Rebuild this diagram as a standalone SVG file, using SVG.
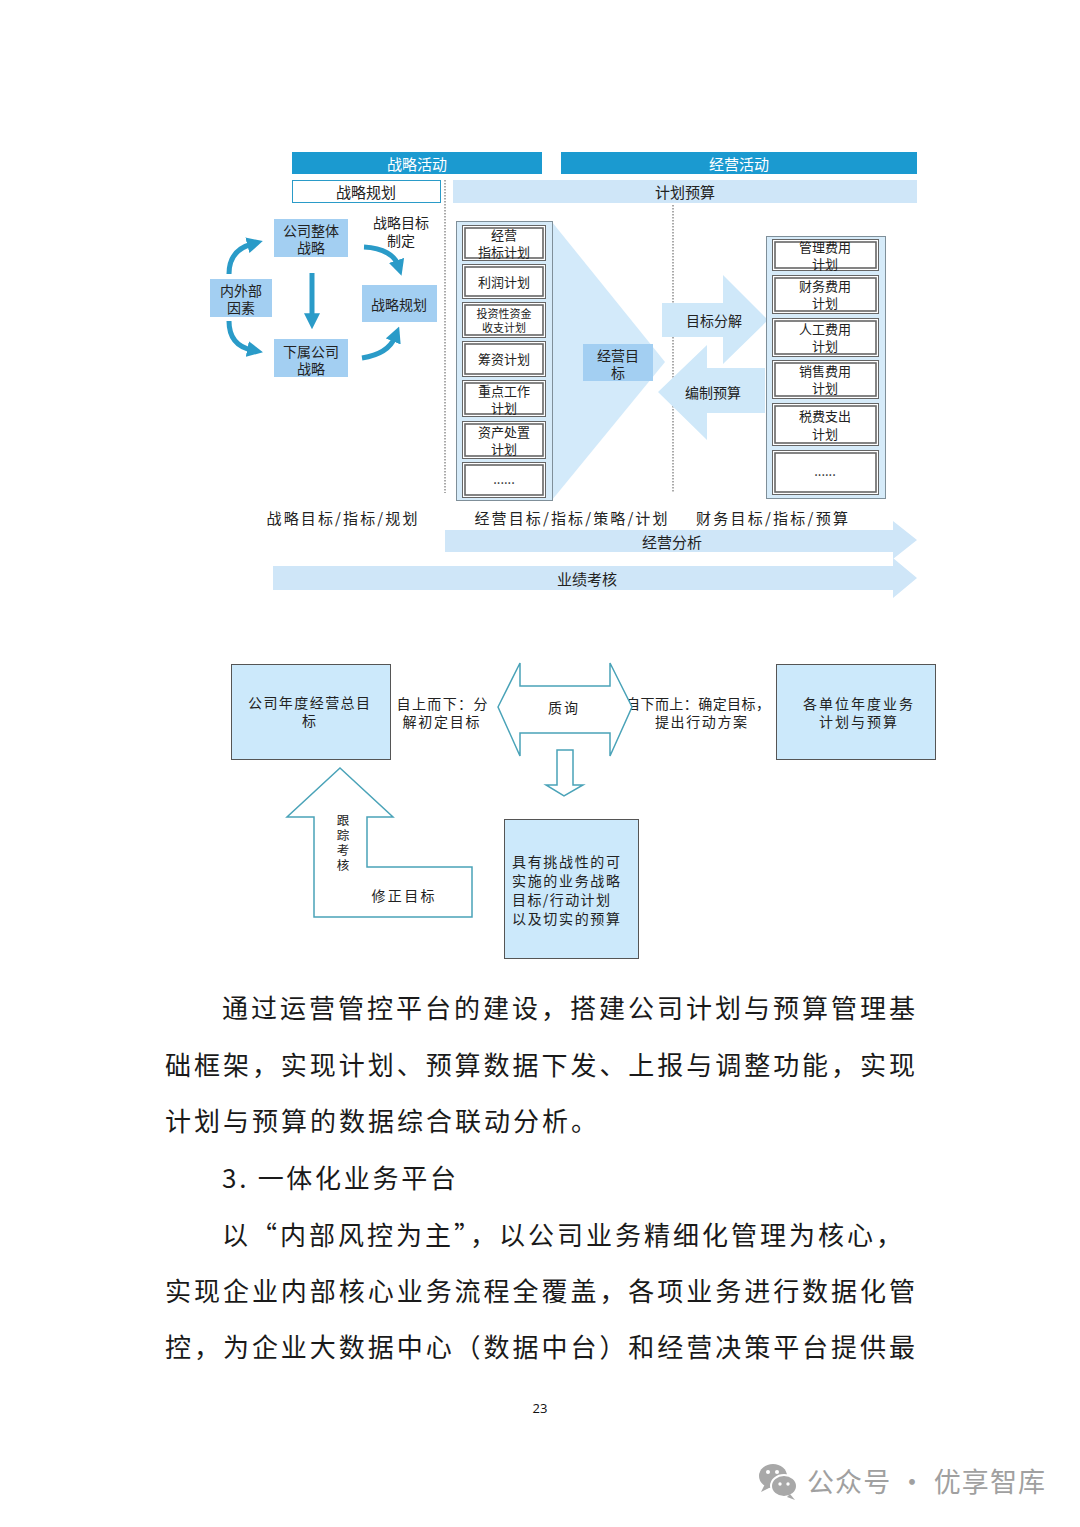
<svg xmlns="http://www.w3.org/2000/svg" width="1080" height="1527" viewBox="0 0 1080 1527">
<defs>
<style>
text{font-family:"Noto Sans CJK SC","Noto Sans",sans-serif;fill:#222;}
.c{text-anchor:middle;dominant-baseline:central;}
.hd{font-size:15px;fill:#fff;}
.h2{font-size:15px;}
.nb{fill:#a3cff2;}
.nt{font-size:14px;}
.pt{font-size:13px;}
.ib{fill:#fff;stroke:#666;stroke-width:1;}
.ibi{fill:none;stroke:#666;stroke-width:1.6;}
.col{fill:#d6ebf9;stroke:#7f8f99;stroke-width:1;}
.lb{font-size:15px;}
.bx{fill:#cce9fb;stroke:#555;stroke-width:1;}
.ol{fill:#fff;stroke:#4aa3b8;stroke-width:1.5;}
.bt{font-size:14px;}
.vt{font-size:12.5px;writing-mode:vertical-rl;letter-spacing:2.5px;}
.para{font-size:26px;fill:#1a1a1a;}
.cur{fill:none;stroke:#2a9bc8;stroke-width:5;}
</style>
<marker id="ah" viewBox="0 0 10 10" refX="3" refY="5" markerWidth="3.2" markerHeight="3.2" orient="auto" markerUnits="strokeWidth">
<path d="M0,0 L10,5 L0,10 z" fill="#2a9bc8"/>
</marker>
</defs>
<rect width="1080" height="1527" fill="#fff"/>

<!-- headers -->
<g id="hdr-strategy"><rect x="292" y="152" width="250" height="22" fill="#1b9ad0"/><text class="c hd" x="417" y="163">战略活动</text></g>
<g id="hdr-operation"><rect x="561" y="152" width="356" height="22" fill="#1b9ad0"/><text class="c hd" x="739" y="163">经营活动</text></g>
<g id="hdr-plan"><rect x="292.5" y="180.5" width="148" height="22" fill="#fff" stroke="#2a9bc8" stroke-width="1"/><text class="c h2" x="366" y="191">战略规划</text></g>
<g id="hdr-budget"><rect x="453" y="180" width="464" height="23" fill="#cfe6f8"/><text class="c h2" x="685" y="191">计划预算</text></g>
<g id="dividers" stroke="#555" stroke-width="1" stroke-dasharray="1.5,1.5">
<line x1="445" y1="180" x2="445" y2="493"/>
<line x1="673" y1="205" x2="673" y2="493"/>
</g>

<!-- left cycle -->
<g id="n-company"><rect class="nb" x="274" y="219" width="74" height="38"/><text class="c nt" x="311" y="230">公司整体</text><text class="c nt" x="311" y="247">战略</text></g>
<g id="n-factors"><rect class="nb" x="210" y="279" width="62" height="38"/><text class="c nt" x="241" y="290">内外部</text><text class="c nt" x="241" y="307">因素</text></g>
<g id="n-stratplan"><rect class="nb" x="362" y="285" width="75" height="37"/><text class="c nt" x="399" y="304">战略规划</text></g>
<g id="n-sub"><rect class="nb" x="274" y="339" width="74" height="38"/><text class="c nt" x="311" y="351">下属公司</text><text class="c nt" x="311" y="368">战略</text></g>
<g id="lbl-goal"><text class="c nt" x="401" y="222">战略目标</text><text class="c nt" x="401" y="240">制定</text></g>

<g id="connectors">
<path class="cur" d="M229 274 C229 258 237 248 252 244" marker-end="url(#ah)"/>
<path class="cur" d="M229 321 C229 337 237 347 252 350" marker-end="url(#ah)"/>
<path class="cur" d="M312 273 L312 318" marker-end="url(#ah)"/>
<path class="cur" d="M364 247 C384 248 395 256 398 265" marker-end="url(#ah)"/>
<path class="cur" d="M362 358 C381 355 391 347 395 337" marker-end="url(#ah)"/>
</g>

<!-- funnel -->
<polygon points="552,222 665,362 552,500" fill="#d3eafa"/>

<!-- middle column -->
<g id="col-ops">
<rect class="col" x="456.5" y="221.5" width="96" height="279"/>
<rect class="ib" x="462.5" y="225.5" width="83" height="35"/><rect class="ibi" x="465" y="228" width="78" height="30"/>
<text class="c pt" x="504" y="234">经营</text><text class="c pt" x="504" y="251">指标计划</text>
<rect class="ib" x="462.5" y="264.5" width="83" height="34"/><rect class="ibi" x="465" y="267" width="78" height="29"/>
<text class="c pt" x="504" y="281">利润计划</text>
<rect class="ib" x="462.5" y="302.5" width="83" height="35"/><rect class="ibi" x="465" y="305" width="78" height="30"/>
<text class="c" style="font-size:11px" x="504" y="313">投资性资金</text><text class="c" style="font-size:11px" x="504" y="327">收支计划</text>
<rect class="ib" x="462.5" y="341.5" width="83" height="35"/><rect class="ibi" x="465" y="344" width="78" height="30"/>
<text class="c pt" x="504" y="358">筹资计划</text>
<rect class="ib" x="462.5" y="380.5" width="83" height="36"/><rect class="ibi" x="465" y="383" width="78" height="31"/>
<text class="c pt" x="504" y="390">重点工作</text><text class="c pt" x="504" y="407">计划</text>
<rect class="ib" x="462.5" y="421.5" width="83" height="37"/><rect class="ibi" x="465" y="424" width="78" height="32"/>
<text class="c pt" x="504" y="431">资产处置</text><text class="c pt" x="504" y="448">计划</text>
<rect class="ib" x="462.5" y="462.5" width="83" height="35"/><rect class="ibi" x="465" y="465" width="78" height="30"/>
<text class="c pt" x="504" y="478">......</text>
</g>

<g id="n-opgoal"><rect class="nb" x="583" y="344" width="70" height="37"/><text class="c nt" x="618" y="355">经营目</text><text class="c nt" x="618" y="372">标</text></g>

<!-- decomposition arrows -->
<g id="arr-decompose"><polygon points="662,303 723,303 723,275 768,320 723,364 723,337 662,337" fill="#cfe8f9"/><text class="c nt" x="714" y="320">目标分解</text></g>
<g id="arr-budget"><polygon points="765,368 707,368 707,345 658,392 707,440 707,413 765,413" fill="#cfe8f9"/><text class="c nt" x="713" y="392">编制预算</text></g>

<!-- right column -->
<g id="col-fin">
<rect class="col" x="766.5" y="236.5" width="119" height="262"/>
<rect class="ib" x="772.5" y="239.5" width="106" height="31"/><rect class="ibi" x="775" y="242" width="101" height="26"/>
<text class="c pt" x="825" y="246">管理费用</text><text class="c pt" x="825" y="263">计划</text>
<rect class="ib" x="772.5" y="275.5" width="106" height="38"/><rect class="ibi" x="775" y="278" width="101" height="33"/>
<text class="c pt" x="825" y="285">财务费用</text><text class="c pt" x="825" y="302">计划</text>
<rect class="ib" x="772.5" y="318.5" width="106" height="38"/><rect class="ibi" x="775" y="321" width="101" height="33"/>
<text class="c pt" x="825" y="328">人工费用</text><text class="c pt" x="825" y="345">计划</text>
<rect class="ib" x="772.5" y="360.5" width="106" height="38"/><rect class="ibi" x="775" y="363" width="101" height="33"/>
<text class="c pt" x="825" y="370">销售费用</text><text class="c pt" x="825" y="387">计划</text>
<rect class="ib" x="772.5" y="403.5" width="106" height="42"/><rect class="ibi" x="775" y="406" width="101" height="37"/>
<text class="c pt" x="825" y="415">税费支出</text><text class="c pt" x="825" y="433">计划</text>
<rect class="ib" x="772.5" y="450.5" width="106" height="44"/><rect class="ibi" x="775" y="453" width="101" height="39"/>
<text class="c pt" x="825" y="470">......</text>
</g>

<!-- bottom labels -->
<g id="lbl-bottom">
<text class="c lb" x="342" y="517" textLength="151" lengthAdjust="spacing">战略目标/指标/规划</text>
<text class="c lb" x="571" y="517" textLength="193" lengthAdjust="spacing">经营目标/指标/策略/计划</text>
<text class="c lb" x="772" y="517" textLength="152" lengthAdjust="spacing">财务目标/指标/预算</text>
</g>
<g id="arr-analysis"><polygon points="445,530 893,530 893,521 917,540 893,559 893,552 445,552" fill="#cfe6f8"/><text class="c lb" x="672" y="541">经营分析</text></g>
<g id="arr-assess"><polygon points="273,566 893,566 893,558 917,578 893,598 893,590 273,590" fill="#cfe6f8"/><text class="c lb" x="587" y="578">业绩考核</text></g>

<!-- second diagram -->
<g id="b-company"><rect class="bx" x="231.5" y="664.5" width="159" height="95"/><text class="c bt" x="309" y="702" textLength="122" lengthAdjust="spacing">公司年度经营总目</text><text class="c bt" x="309" y="720">标</text></g>
<g id="lbl-topdown"><text class="c bt" x="442" y="703" textLength="91" lengthAdjust="spacing">自上而下：分</text><text class="c bt" x="441" y="721" textLength="77" lengthAdjust="spacing">解初定目标</text></g>
<g id="b-units"><rect class="bx" x="776.5" y="664.5" width="159" height="95"/><text class="c bt" x="858" y="703" textLength="110" lengthAdjust="spacing">各单位年度业务</text><text class="c bt" x="858" y="721" textLength="78" lengthAdjust="spacing">计划与预算</text></g>
<g id="lbl-bottomup"><text class="c bt" x="698" y="703" textLength="144" lengthAdjust="spacing">自下而上：确定目标，</text><text class="c bt" x="701" y="721" textLength="92" lengthAdjust="spacing">提出行动方案</text></g>
<g id="arr-query"><polygon class="ol" points="498,707 520,663 520,686 610,686 610,663 632,707 610,756 610,733 520,733 520,756"/><text class="c bt" x="563" y="707" textLength="30" lengthAdjust="spacing">质询</text></g>
<g id="arr-down"><polygon class="ol" points="557,750 573,750 573,785 583,785 564,796 546,785 557,785"/></g>
<g id="b-result"><rect class="bx" x="504.5" y="819.5" width="134" height="139"/>
<text class="bt" x="512" y="867" textLength="108" lengthAdjust="spacing">具有挑战性的可</text>
<text class="bt" x="512" y="886" textLength="108" lengthAdjust="spacing">实施的业务战略</text>
<text class="bt" x="512" y="905" textLength="98" lengthAdjust="spacing">目标/行动计划</text>
<text class="bt" x="512" y="924" textLength="108" lengthAdjust="spacing">以及切实的预算</text>
</g>
<g id="arr-track"><polygon class="ol" points="340,768 393,817 367,817 367,867 472,867 472,917 314,917 314,817 287,817"/>
<text class="vt" x="343" y="814">跟踪考核</text>
<text class="c bt" x="403" y="895" textLength="63" lengthAdjust="spacing">修正目标</text></g>

<!-- paragraph text -->
<g id="body-text">
<text class="para" x="222" y="1018" textLength="693" lengthAdjust="spacing">通过运营管控平台的建设，搭建公司计划与预算管理基</text>
<text class="para" x="165" y="1075" textLength="750" lengthAdjust="spacing">础框架，实现计划、预算数据下发、上报与调整功能，实现</text>
<text class="para" x="165" y="1131" textLength="432" lengthAdjust="spacing">计划与预算的数据综合联动分析。</text>
<text class="para" x="222" y="1188" textLength="234" lengthAdjust="spacing">3. 一体化业务平台</text>
<text class="para" x="222" y="1245" textLength="680" lengthAdjust="spacing">以“内部风控为主”，以公司业务精细化管理为核心，</text>
<text class="para" x="165" y="1301" textLength="750" lengthAdjust="spacing">实现企业内部核心业务流程全覆盖，各项业务进行数据化管</text>
<text class="para" x="165" y="1357" textLength="750" lengthAdjust="spacing">控，为企业大数据中心（数据中台）和经营决策平台提供最</text>
</g>
<text x="540" y="1413" text-anchor="middle" style="font-family:'Open Sans','Liberation Sans',sans-serif;font-size:13px;fill:#111">23</text>

<!-- watermark -->
<g id="watermark">
<ellipse cx="773" cy="1476" rx="14" ry="12" fill="#a8a8a8"/>
<polygon points="765,1484 761,1492 771,1487" fill="#a8a8a8"/>
<ellipse cx="784" cy="1486" rx="13" ry="11" fill="#a8a8a8" stroke="#fff" stroke-width="2"/>
<polygon points="790,1494 795,1500 787,1497" fill="#a8a8a8"/>
<circle cx="768" cy="1472" r="2" fill="#fff"/><circle cx="777" cy="1472" r="2" fill="#fff"/>
<circle cx="780" cy="1484" r="1.7" fill="#fff"/><circle cx="788" cy="1484" r="1.7" fill="#fff"/>
<text x="807" y="1492" style="font-size:27px;fill:#a0a0a0" textLength="238" lengthAdjust="spacing">公众号 · 优享智库</text>
</g>
</svg>
